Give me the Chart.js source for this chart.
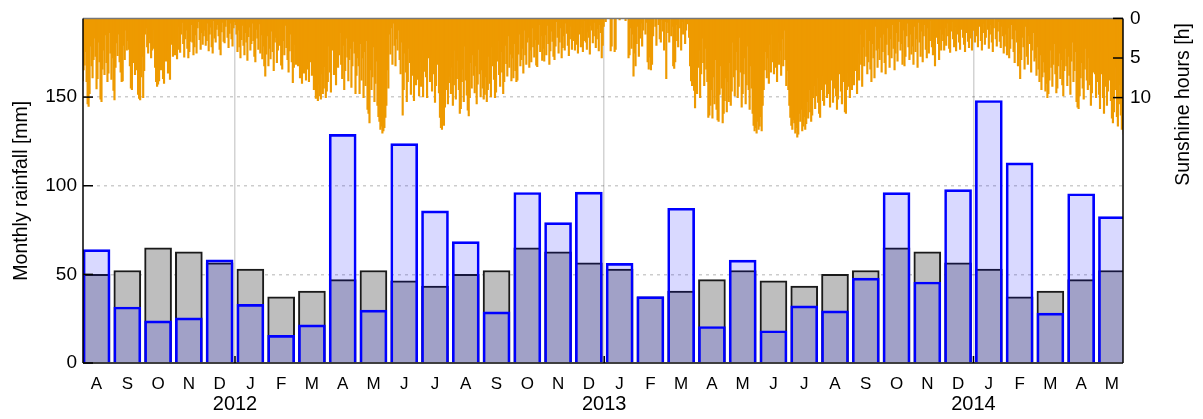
<!DOCTYPE html>
<html><head><meta charset="utf-8">
<script src="https://cdn.jsdelivr.net/npm/chart.js@4/dist/chart.umd.min.js"></script>
<style>html,body{margin:0;padding:0;background:#fff;overflow:hidden}canvas{display:block}</style>
</head><body>
<canvas id="c" width="1203" height="419"></canvas>
<script>
// ---- DATA ----
const monthLabels = ['A','S','O','N','D','J','F','M','A','M','J','J','A','S','O','N','D','J','F','M','A','M','J','J','A','S','O','N','D','J','F','M','A','M'];
const yearLabels = ['2012','2013','2014'];
const yearStartIndex = [5, 17, 29];
const normalRain = [50.0,52.2,65.0,62.7,56.5, 53.0,37.3,40.6,47.0,52.2,46.4,43.4,50.0,52.2,65.0,62.7,56.5, 53.0,37.3,40.6,47.0,52.2,46.4,43.4,50.0,52.2,65.0,62.7,56.5, 53.0,37.3,40.6,47.0,52.2];
const actualRain = [64.0,31.6,23.8,25.5,58.2, 33.1,15.6,21.5,129.0,29.8,123.8,85.8,68.5,28.8,96.2,79.2,96.4, 56.2,37.4,87.3,20.6,58.0,18.2,32.2,29.4,47.9,96.1,45.7,97.8, 148.1,112.9,28.1,95.5,82.6];
const rainTicks = [0,50,100,150];
const sunTicks = [0,5,10];

// daily sunshine hours, one inner array per month
const sun2011 = [
 [6.0,7.9,6.5,5.9,4.2,8.0,10.8,11.1,9.5,3.5,6.0,7.5,5.2,2.5,4.8,8.9,7.6,3.0,5.5,10.2,10.5,6.4,4.0,7.1,2.1,5.6,8.0,6.9,1.8,4.4,7.7],
 [5.0,9.1,10.3,6.2,3.1,4.7,2.0,5.5,6.8,8.0,7.9,3.4,5.2,1.5,4.0,2.8,3.9,6.0,8.8,9.0,4.2,5.6,7.1,3.3,6.5,9.6,10.1,10.3,7.4,4.8],
 [10.0,6.6,2.0,1.2,3.6,4.4,2.5,3.1,5.0,4.0,1.4,3.8,6.2,8.0,8.6,8.3,7.9,5.1,6.5,4.0,7.6,8.2,3.0,5.4,2.2,6.9,4.1,7.7,3.3,1.0,4.8],
 [3.5,4.6,2.4,5.1,1.0,3.9,4.3,2.0,0.5,3.2,4.9,2.6,1.5,3.8,5.0,4.2,2.9,0.8,3.0,4.6,3.6,2.1,4.4,1.2,0.4,2.7,3.9,1.8,3.3,2.2],
 [1.5,3.4,2.8,0.6,4.1,2.0,1.1,3.6,4.4,0.3,2.5,3.0,1.4,0.8,2.2,3.9,4.6,1.7,0.5,2.9,3.1,1.0,0.2,2.4,3.7,1.9,0.6,2.6,3.5,1.2,0.4]
];
const sun2012 = [
 [0.8,2.0,4.2,1.5,3.6,5.0,2.7,0.9,3.4,4.6,1.8,3.0,5.3,2.3,1.1,4.0,3.2,0.6,2.8,4.8,5.5,1.4,2.5,3.9,0.7,4.4,2.1,5.1,3.5,6.0,7.3],
 [4.5,2.2,6.0,3.8,5.1,1.6,4.2,6.6,3.0,2.4,5.6,4.0,1.2,3.4,5.9,6.4,2.8,4.6,0.9,3.7,5.2,6.8,4.1,2.0,5.5,8.1,6.2,3.3,5.8],
 [4.5,6.0,3.2,7.5,5.8,8.2,4.1,6.9,3.7,7.8,5.0,6.4,8.0,2.9,5.5,7.2,4.4,9.0,8.6,10.1,9.4,10.4,8.3,9.8,10.2,7.0,9.5,8.8,6.1,10.0,9.2],
 [8.0,3.5,6.8,9.3,4.0,2.2,7.1,5.5,8.4,3.0,6.2,4.6,1.8,5.8,7.6,3.4,9.0,6.6,2.5,4.9,7.9,5.2,3.8,8.7,6.0,2.9,4.4,9.5,7.2,5.0],
 [6.0,9.5,3.2,7.8,5.0,10.0,4.2,8.5,2.8,11.5,12.0,13.2,6.5,9.0,7.4,3.6,10.5,8.2,5.4,11.0,12.4,13.0,14.0,13.6,14.5,14.2,13.8,12.5,11.0,6.5,8.8],
 [2.0,4.5,1.2,5.8,0.6,3.4,6.0,2.6,4.0,1.5,5.2,7.0,3.0,12.2,9.0,4.4,6.8,10.5,8.0,3.8,5.6,9.6,7.2,4.9,10.4,6.3,8.4,3.3,7.7,9.8],
 [5.5,8.6,4.0,9.9,6.7,2.4,7.4,10.0,5.0,3.2,8.0,6.3,9.2,4.6,7.0,10.6,8.5,5.8,3.9,9.4,12.5,13.8,14.0,12.0,13.5,11.2,9.0,6.5,10.8,8.1,7.3],
 [9.5,6.2,11.0,8.4,4.0,10.2,7.6,5.3,9.0,12.0,11.4,8.0,6.4,10.5,3.5,7.8,9.7,11.6,12.3,10.0,5.6,8.8,4.6,7.2,9.4,6.0,10.8,8.3,3.9,7.0,9.9],
 [6.5,8.8,10.2,9.6,7.4,10.5,9.0,4.8,8.2,9.9,3.6,6.0,7.7,10.0,9.3,5.4,2.8,7.1,8.6,4.2,6.8,9.5,8.0,3.4,5.7,7.3,2.2,6.2,4.5,7.9],
 [5.0,7.5,3.2,6.6,8.0,7.8,4.5,2.0,6.0,5.2,3.8,6.9,1.5,4.6,5.8,3.0,2.4,6.2,4.0,5.5,1.2,3.6,4.9,2.7,5.9,6.1,3.3,0.8,4.2,2.2,5.3],
 [3.8,5.4,2.1,4.6,0.9,3.2,5.8,4.1,1.6,2.9,4.8,5.2,3.5,0.4,2.4,4.4,3.0,1.2,5.0,3.7,2.2,4.0,0.6,1.9,3.4,4.7,2.6,1.0,3.9,2.8],
 [2.5,4.0,1.4,3.3,4.4,0.7,2.0,3.6,1.1,4.2,2.8,0.3,3.0,3.9,1.7,2.4,4.5,0.9,1.5,3.1,2.2,0.5,3.7,2.6,1.3,4.1,0.8,1.8,5.0,3.4,1.0]
];
const sun2013 = [
 [0.0,0.4,0.0,0.0,0.0,0.0,4.1,3.5,0.0,0.0,4.2,3.9,0.0,0.0,0.0,0.2,0.0,0.0,0.0,0.0,0.0,0.3,0.0,0.0,5.0,4.6,1.2,3.8,2.0,7.3,4.4],
 [6.0,3.2,1.0,4.8,2.5,0.6,3.5,1.5,0.0,2.0,0.5,5.5,6.4,4.9,6.5,5.8,2.2,0.0,1.0,3.4,0.0,0.8,2.6,3.0,0.2,1.6,4.0,0.4],
 [7.6,0.5,1.8,3.0,0.0,2.2,1.0,6.0,6.3,5.5,0.8,2.8,3.6,0.0,1.2,4.0,0.4,2.0,0.0,3.2,1.5,0.7,0.0,2.4,6.0,7.9,8.5,5.4,9.1,11.3,8.8],
 [9.5,6.2,4.0,10.0,7.0,2.5,5.6,8.5,3.8,6.4,8.0,12.5,12.2,11.0,9.0,12.6,7.4,10.8,5.2,11.5,12.8,13.0,9.6,6.0,8.8,13.2,12.0,10.4,7.5,11.8],
 [8.0,10.5,5.6,11.0,9.2,3.0,7.4,9.8,6.5,4.2,10.0,8.6,2.4,6.8,11.2,9.5,7.0,5.0,10.8,8.4,3.5,9.0,11.5,6.0,8.8,12.0,13.5,14.2,13.8,14.5,13.0],
 [14.0,13.6,12.4,14.2,11.0,9.0,6.5,4.2,7.5,5.0,8.2,3.3,6.8,2.0,5.5,7.0,4.6,6.2,8.0,3.0,5.8,4.0,7.2,2.6,6.0,1.5,5.2,8.5,6.6,9.0],
 [11.0,12.5,13.5,14.0,12.8,13.2,14.5,13.8,15.0,14.6,12.0,13.0,11.5,14.2,13.6,12.4,14.0,13.3,10.5,12.6,9.0,11.8,13.0,12.2,10.0,8.5,11.4,9.8,7.5,10.6,12.0],
 [12.5,9.0,7.2,10.4,11.0,6.5,8.3,10.0,5.4,9.5,11.2,7.8,4.6,10.6,8.8,6.0,9.8,11.5,10.2,7.0,3.8,9.2,10.8,8.0,5.6,11.8,12.0,9.0,6.8,8.6,10.0],
 [7.4,9.0,5.2,8.4,3.0,6.6,9.5,4.4,7.8,2.0,5.8,8.6,3.6,6.0,1.4,4.8,7.0,5.5,2.8,6.4,8.0,3.2,5.0,7.5,1.0,4.0,6.2,3.8,5.2,2.4],
 [6.8,4.2,2.0,5.6,7.0,3.3,1.2,4.6,6.2,2.6,5.0,0.8,3.8,6.5,4.4,1.8,5.4,2.9,0.4,4.0,3.2,5.8,1.5,6.0,4.8,2.2,0.6,3.6,5.2,2.0,4.5],
 [3.5,5.8,1.0,4.2,2.6,6.2,0.5,3.0,4.8,1.6,5.5,2.2,0.8,3.9,5.0,1.2,4.4,2.8,0.3,3.6,4.6,1.9,6.0,2.4,0.9,3.2,5.2,1.4,4.0,2.0],
 [2.8,4.0,1.2,3.4,0.6,2.2,3.8,4.3,1.6,0.4,2.6,3.6,1.0,4.1,2.0,0.8,3.0,3.9,1.4,0.2,2.4,3.3,4.2,1.8,0.5,2.9,3.7,1.1,2.5,4.0,1.5]
];
const sun2014 = [
 [1.5,3.0,0.5,2.2,3.6,1.0,0.0,2.8,4.0,1.8,0.6,3.3,2.4,0.2,1.4,3.8,2.0,0.8,3.0,4.2,1.2,0.0,2.6,3.5,1.6,0.4,2.9,3.7,1.0,2.2,4.4],
 [3.5,2.0,4.6,1.2,5.0,3.8,0.8,2.6,4.2,5.6,1.5,3.0,6.0,4.4,7.6,5.2,2.4,3.6,6.4,1.0,4.8,5.8,2.2,3.2,6.8,4.0,1.8,5.4],
 [5.0,7.2,3.6,6.4,8.0,4.6,9.0,7.4,5.5,6.8,9.2,8.2,10.0,9.5,7.8,4.0,6.2,8.6,5.8,3.2,7.0,9.4,8.8,6.0,4.4,7.6,5.2,8.4,9.8,6.6,3.8],
 [6.0,8.5,4.8,7.2,9.6,5.4,3.0,8.0,6.6,4.2,10.5,11.2,11.4,9.8,7.5,5.6,8.8,10.2,6.4,3.8,7.8,9.0,5.0,8.4,11.0,9.4,6.8,4.4,7.0,10.0],
 [8.0,5.5,9.6,11.4,7.0,4.2,10.0,12.0,8.6,6.4,11.0,9.2,3.6,7.8,10.4,12.6,13.2,11.8,9.0,6.2,12.4,13.6,10.8,8.4,12.2,14.0,13.5,14.6,9.5,6.8,4.5]
];

// ---- BUILD ----
const sunMonths = [].concat(sun2011, sun2012, sun2013, sun2014);
const sunPoints = [];
sunMonths.forEach((days, i) => {
  days.forEach((h, k) => sunPoints.push({x: i - 0.5 + (k + 0.5) / days.length, y: h}));
});
const isInt = v => Math.abs(v - Math.round(v)) < 1e-6;
const XMIN = -0.44, XMAX = 33.36;
const FONT = "'Liberation Sans', Arial, Helvetica, sans-serif";
Chart.defaults.font.family = FONT;
Chart.defaults.color = '#000';

const decor = {
  id: 'decor',
  afterDraw(chart) {
    const {ctx, chartArea: a, scales} = chart;
    const line = (x1, y1, x2, y2) => { ctx.beginPath(); ctx.moveTo(x1, y1); ctx.lineTo(x2, y2); ctx.stroke(); };
    ctx.save();
    ctx.lineWidth = 1.5;
    ctx.strokeStyle = '#777';
    line(a.left, a.top, a.right, a.top);
    ctx.strokeStyle = '#000';
    line(a.left, a.top, a.left, a.bottom);
    line(a.left, a.bottom, a.right, a.bottom);
    line(a.right, a.top, a.right, a.bottom);
    scales.y.ticks.forEach(t => { const p = scales.y.getPixelForValue(t.value); line(a.left, p, a.left + 10, p); });
    scales.y2.ticks.forEach(t => { const p = scales.y2.getPixelForValue(t.value); line(a.right - 10, p, a.right, p); });
    yearStartIndex.forEach(i => { const p = scales.x.getPixelForValue(i - 0.5); line(p, a.bottom, p, a.bottom - 7); });
    ctx.fillStyle = '#000';
    ctx.font = '19.5px ' + FONT;
    ctx.textAlign = 'center';
    ctx.textBaseline = 'middle';
    ctx.save();
    ctx.translate(22, (a.top + a.bottom) / 2);
    ctx.rotate(-Math.PI / 2);
    ctx.fillText('Monthly rainfall [mm]', 0, 0);
    ctx.restore();
    ctx.save();
    ctx.translate(1184, a.top + 86);
    ctx.rotate(-Math.PI / 2);
    ctx.fillText('Sunshine hours [h]', 0, 0);
    ctx.restore();
    ctx.restore();
  }
};

new Chart(document.getElementById('c'), {
  type: 'bar',
  data: {
    datasets: [
      { label: 'Rainfall', data: actualRain.map((v, i) => ({x: i, y: v})), yAxisID: 'y',
        backgroundColor: 'rgba(0,0,255,0.15)', borderColor: '#0000ff', borderWidth: 2,
        barThickness: 27, grouped: false, order: 0 },
      { label: 'Normal', data: normalRain.map((v, i) => ({x: i, y: v})), yAxisID: 'y',
        backgroundColor: '#bebebe', borderColor: '#1a1a1a', borderWidth: 2,
        barThickness: 27, grouped: false, order: 1 },
      { label: 'Sunshine', data: sunPoints, yAxisID: 'y2',
        backgroundColor: '#ee9a00', borderWidth: 0,
        barThickness: 1.5, grouped: false, order: 2 }
    ]
  },
  options: {
    responsive: false,
    animation: false,
    devicePixelRatio: 1,
    layout: { padding: { top: 17, left: 0, right: 0, bottom: 0 } },
    plugins: { legend: { display: false }, tooltip: { enabled: false } },
    scales: {
      x: {
        type: 'linear', position: 'bottom', min: XMIN, max: XMAX, offset: false,
        afterBuildTicks: s => {
          const t = monthLabels.map((m, i) => ({value: i}));
          yearStartIndex.forEach(i => t.push({value: i - 0.5}));
          t.sort((a, b) => a.value - b.value);
          s.ticks = t;
        },
        afterFit: s => { s.height = 56; },
        border: { display: false },
        grid: { offset: false, drawTicks: false, lineWidth: 1.5,
          color: c => (c.tick && !isInt(c.tick.value)) ? '#d3d3d3' : 'rgba(0,0,0,0)' },
        ticks: {
          autoSkip: false, maxRotation: 0, padding: 11,
          font: c => (c.tick && !isInt(c.tick.value)) ? {size: 20, lineHeight: 1.0} : {size: 17},
          callback: v => isInt(v) ? monthLabels[Math.round(v)] : ['', yearLabels[yearStartIndex.findIndex(i => Math.abs(i - 0.5 - v) < 1e-6)]]
        }
      },
      y: {
        type: 'linear', position: 'left', min: 0, max: 194.4, z: 1,
        afterBuildTicks: s => { s.ticks = rainTicks.map(v => ({value: v})); },
        afterFit: s => { s.width = 83; },
        border: { display: false, dash: [3, 4] },
        grid: { drawTicks: false, lineWidth: 1.5,
          color: c => (c.tick && c.tick.value > 0) ? 'rgba(0,0,0,0.2)' : 'rgba(0,0,0,0)' },
        ticks: { padding: 6, font: {size: 19} }
      },
      y2: {
        type: 'linear', position: 'right', min: 0, max: 43.5, reverse: true,
        afterBuildTicks: s => { s.ticks = sunTicks.map(v => ({value: v})); },
        afterFit: s => { s.width = 80; },
        border: { display: false },
        grid: { drawOnChartArea: false, drawTicks: false },
        ticks: { padding: 7, font: {size: 19} }
      }
    }
  },
  plugins: [decor]
});
</script>
</body></html>
